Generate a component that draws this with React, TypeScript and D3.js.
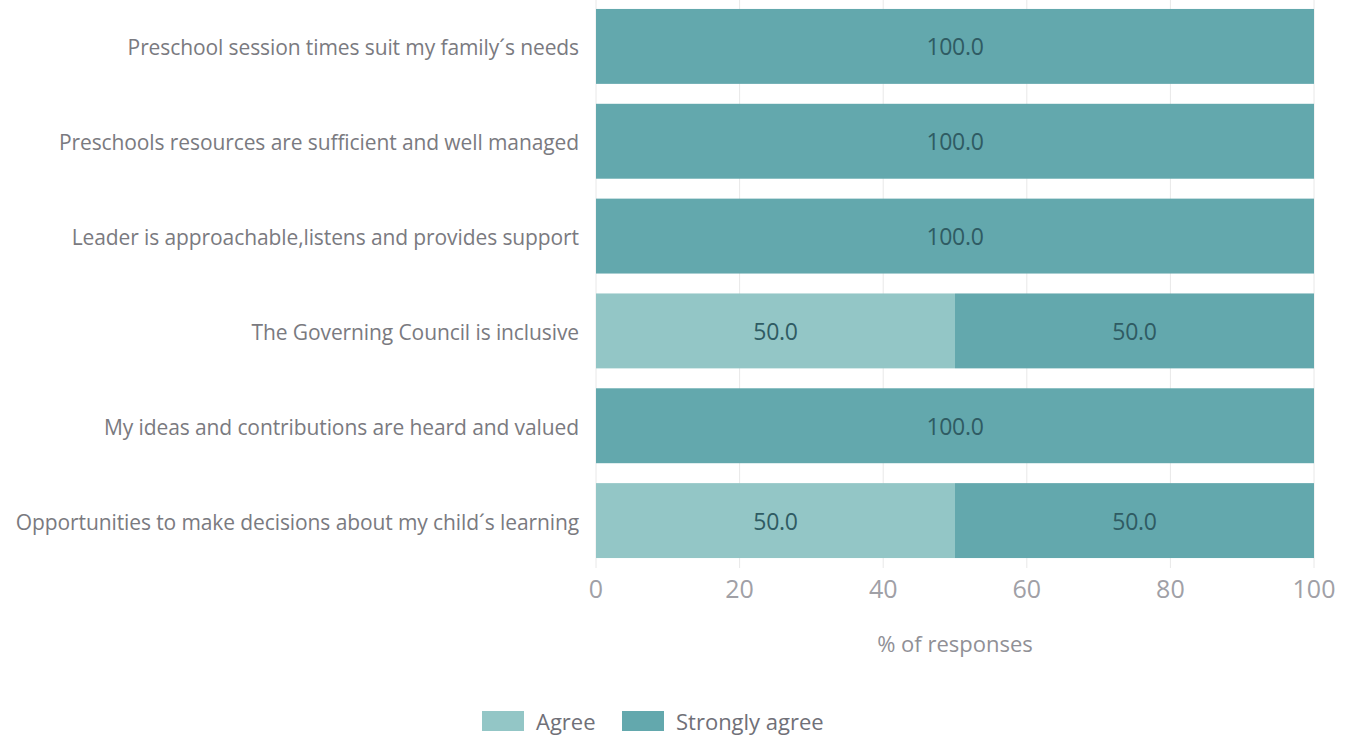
import React from "react";
import * as d3 from "d3";

const categories = [
  "Preschool session times suit my family´s needs",
  "Preschools resources are sufficient and well managed",
  "Leader is approachable,listens and provides support",
  "The Governing Council is inclusive",
  "My ideas and contributions are heard and valued",
  "Opportunities to make decisions about my child´s learning",
];
const agree = [0, 0, 0, 50, 0, 50];
const stronglyAgree = [100, 100, 100, 50, 100, 50];
const seriesNames = ["Agree", "Strongly agree"];
const seriesColors = ["#93c6c6", "#63a8ad"];
const xTicks = [0, 20, 40, 60, 80, 100];

const W = 1349;
const H = 736;
const FONT = "'Open Sans', 'Noto Sans', sans-serif";

export default function App() {
  const x = d3.scaleLinear().domain([0, 100]).range([596, 1314]);
  const y = d3
    .scaleBand<string>()
    .domain(categories)
    .range([-1, 568])
    .paddingInner(0.21)
    .paddingOuter(0.105);

  const stack = categories.map((c, i) => {
    const vals = [agree[i], stronglyAgree[i]];
    let acc = 0;
    return vals.map((v, k) => {
      const s = { cat: c, k, x0: acc, x1: acc + v, v };
      acc += v;
      return s;
    });
  });

  return (
    <svg
      width={W}
      height={H}
      style={{ position: "absolute", left: 0, top: 0, background: "#fff" }}
      fontFamily={FONT}
    >
      {xTicks.map((t) => (
        <line
          key={"g" + t}
          x1={x(t)}
          x2={x(t)}
          y1={y.range()[0]}
          y2={y.range()[1]}
          stroke="#e8e8e8"
          strokeWidth={1}
        />
      ))}
      {stack.map((row) =>
        row
          .filter((s) => s.v > 0)
          .map((s) => (
            <g key={s.cat + s.k}>
              <rect
                x={x(s.x0)}
                y={y(s.cat)}
                width={x(s.x1) - x(s.x0)}
                height={y.bandwidth()}
                fill={seriesColors[s.k]}
              />
              <text
                x={(x(s.x0) + x(s.x1)) / 2}
                y={(y(s.cat) as number) + y.bandwidth() / 2}
                textAnchor="middle"
                dominantBaseline="central"
                fontSize={23}
                fill="#2f5b63"
                letterSpacing={-0.3}
              >
                {s.v.toFixed(1)}
              </text>
            </g>
          ))
      )}
      {categories.map((c) => (
        <text
          key={"l" + c}
          x={579}
          y={(y(c) as number) + y.bandwidth() / 2 + 1}
          textAnchor="end"
          dominantBaseline="central"
          fontSize={21}
          fill="#7a7a80"
          letterSpacing={-0.1}
        >
          {c}
        </text>
      ))}
      {xTicks.map((t) => (
        <text
          key={"t" + t}
          x={x(t)}
          y={588}
          textAnchor="middle"
          dominantBaseline="central"
          fontSize={25}
          fill="#a0a0a6"
        >
          {t}
        </text>
      ))}
      <text
        x={(x(0) + x(100)) / 2}
        y={643}
        textAnchor="middle"
        dominantBaseline="central"
        fontSize={22}
        fill="#909096"
      >
        % of responses
      </text>
      {seriesNames.map((n, i) => {
        const lx = [482, 622][i];
        return (
          <g key={n}>
            <rect x={lx} y={711} width={42} height={20} fill={seriesColors[i]} />
            <text
              x={lx + 54}
              y={721}
              dominantBaseline="central"
              fontSize={22}
              fill="#707078"
            >
              {n}
            </text>
          </g>
        );
      })}
    </svg>
  );
}
